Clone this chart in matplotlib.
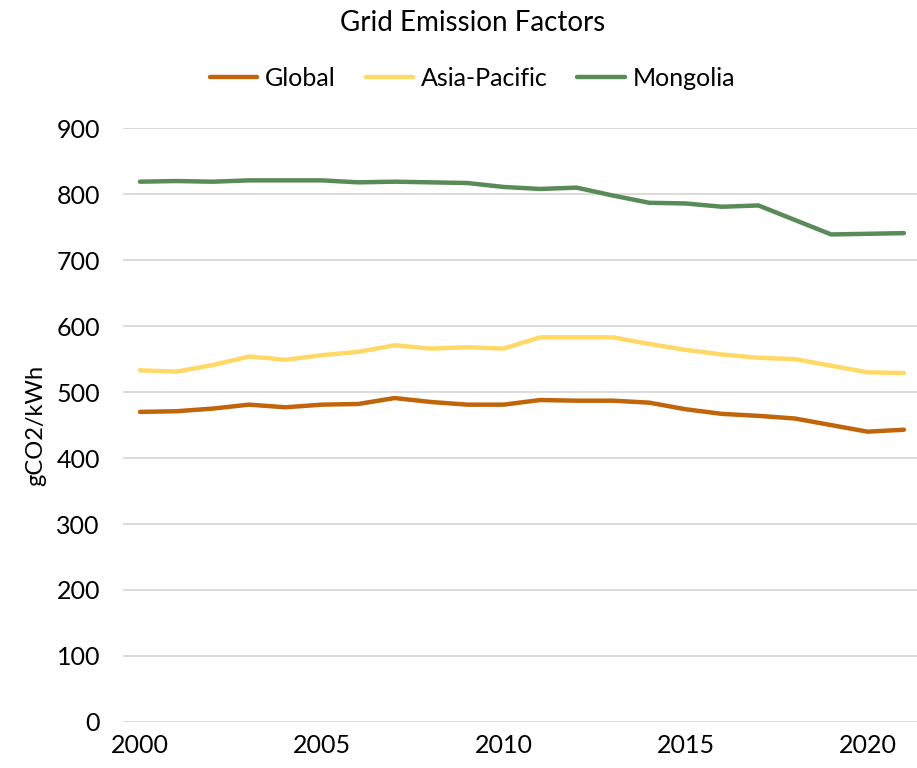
import matplotlib
matplotlib.use("Agg")
import matplotlib.pyplot as plt

years = list(range(2000, 2022))
global_ef = [470, 471, 475, 481, 477, 481, 482, 491, 485, 481, 481, 488, 487, 487, 484,
             474, 467, 464, 460, 450, 440, 443]
asia_pacific = [533, 531, 541, 554, 549, 556, 561, 571, 566, 568, 566, 583, 583, 583, 573,
                564, 557, 552, 550, 540, 530, 529]
mongolia = [819, 820, 819, 821, 821, 821, 818, 819, 818, 817, 811, 808, 810, 798, 787,
            786, 781, 783, 761, 739, 740, 741]
yticks = [0, 100, 200, 300, 400, 500, 600, 700, 800, 900]
xticks = [2000, 2005, 2010, 2015, 2020]

plt.rcParams['font.family'] = ['Lato', 'DejaVu Sans']

fig = plt.figure(figsize=(9.17, 7.68), dpi=100)
ax = fig.add_axes([0.134, 0.06, 0.866, 0.773])

ax.plot(years, global_ef, color='#C0650A', linewidth=3.2, label='Global', solid_capstyle='round')
ax.plot(years, asia_pacific, color='#FFD966', linewidth=3.2, label='Asia-Pacific', solid_capstyle='round')
ax.plot(years, mongolia, color='#588B58', linewidth=3.2, label='Mongolia', solid_capstyle='round')

ax.set_ylim(0, 900)
ax.set_xlim(1999.53, 2021.36)
ax.set_yticks(yticks)
ax.set_xticks(xticks)
ax.grid(axis='y', color='#D9D9D9', linewidth=1.3)
ax.set_axisbelow(True)
for s in ax.spines.values():
    s.set_visible(False)
ax.tick_params(axis='both', length=0, labelsize=18, colors='black')
ax.tick_params(axis='y', pad=16.5)
ax.tick_params(axis='x', pad=9)
ax.set_ylabel('gCO2/kWh', fontsize=17)
ax.yaxis.set_label_coords(-0.096, 0.5)

fig.text(0.515, 0.97, 'Grid Emission Factors', ha='center', va='center', fontsize=20)
fig.legend(loc='center', bbox_to_anchor=(0.515, 0.898), ncol=3, frameon=False, fontsize=18,
           handlelength=1.9, handletextpad=0.3, columnspacing=1.2)

fig.savefig('out.png', dpi=100)
